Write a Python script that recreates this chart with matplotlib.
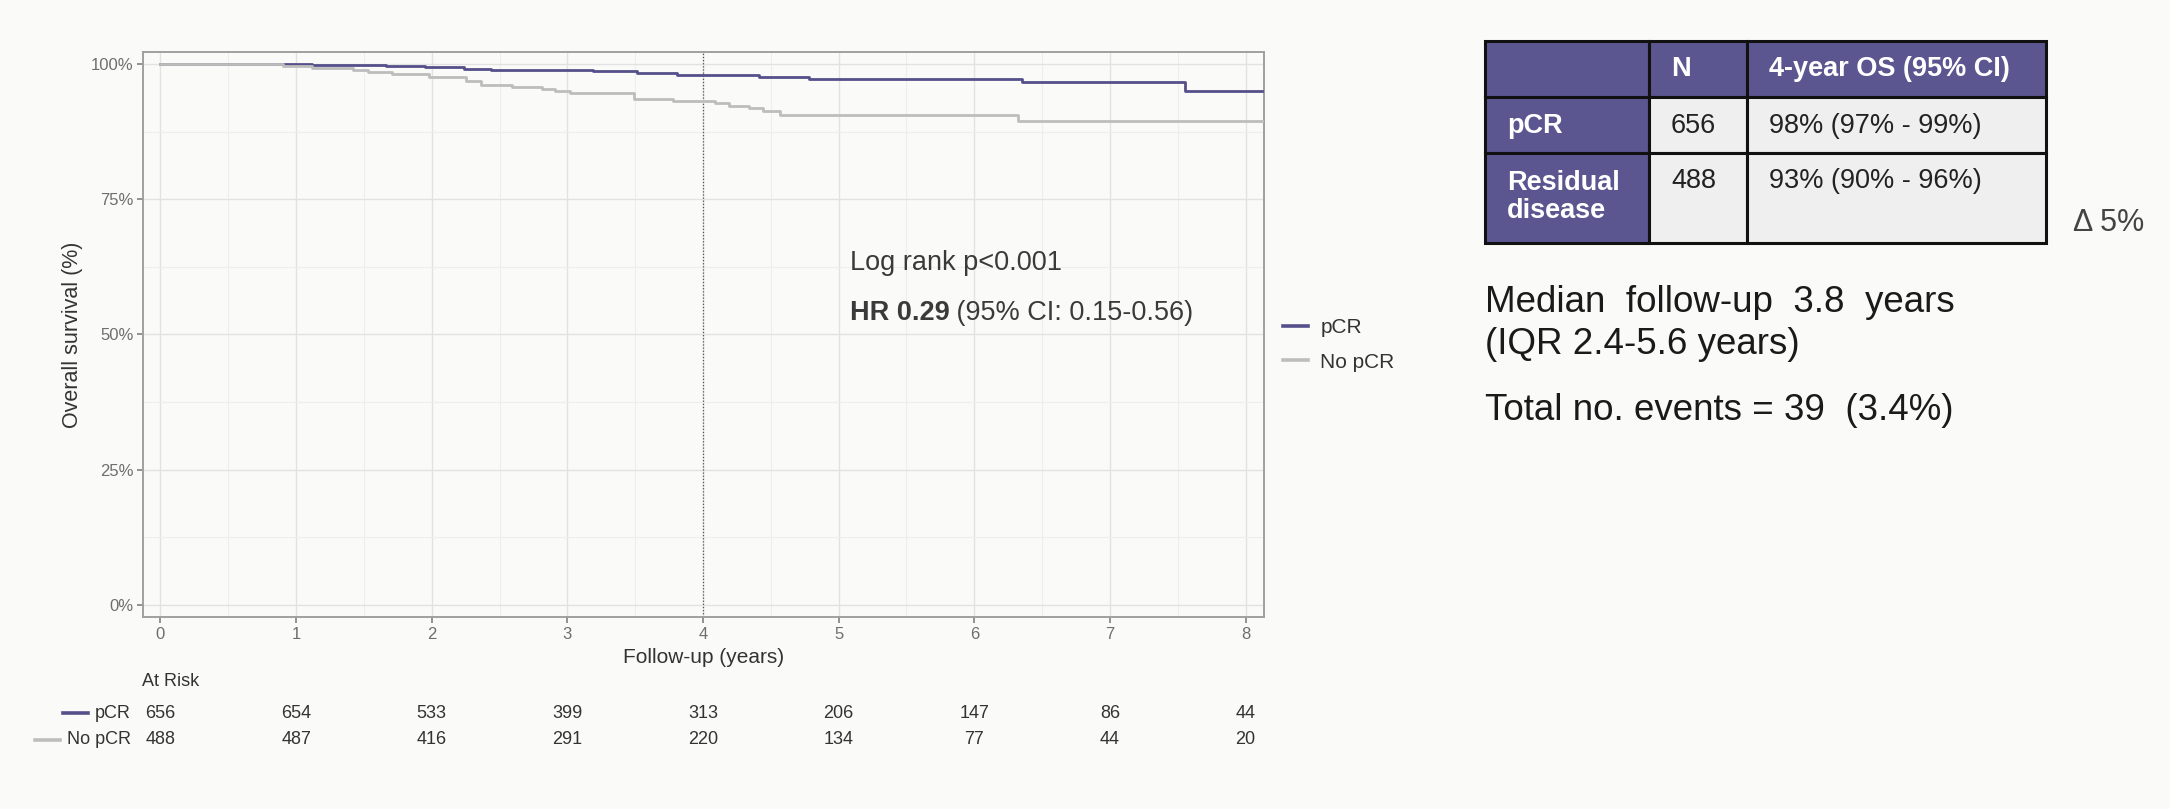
"""Overall survival by pCR status: KM curves, at-risk table and 4-year OS summary."""

import matplotlib

matplotlib.use("Agg")
import matplotlib.pyplot as plt
from matplotlib.lines import Line2D
from matplotlib.patches import Rectangle
from matplotlib.transforms import blended_transform_factory

plt.rcParams["font.family"] = ["Liberation Sans", "DejaVu Sans"]

# ---- data --------------------------------------------------------------
group_labels = ["pCR", "No pCR"]

time_pcr = [0, 1.12, 1.66, 1.95, 2.24, 2.44, 3.19, 3.51, 3.81, 4.41, 4.78,
            6.35, 7.55, 8.12]
surv_pcr = [100, 99.88, 99.7, 99.5, 99.08, 98.9, 98.65, 98.34, 98.03, 97.66,
            97.23, 96.6, 94.96, 94.96]

time_nopcr = [0, 0.90, 1.12, 1.42, 1.53, 1.71, 1.98, 2.25, 2.36, 2.59, 2.81,
              2.91, 3.02, 3.49, 3.78, 4.09, 4.19, 4.34, 4.44, 4.57, 6.32, 8.12]
surv_nopcr = [100, 99.7, 99.26, 98.95, 98.46, 98.15, 97.54, 96.92, 96.19,
              95.7, 95.45, 95.08, 94.65, 93.6, 93.1, 92.8, 92.3, 91.9, 91.3,
              90.65, 89.4, 89.4]

risk_years = [0, 1, 2, 3, 4, 5, 6, 7, 8]
at_risk_pcr = [656, 654, 533, 399, 313, 206, 147, 86, 44]
at_risk_nopcr = [488, 487, 416, 291, 220, 134, 77, 44, 20]

landmark_year = 4
y_ticks = [0, 25, 50, 75, 100]

table_header = ["", "N", "4-year OS (95% CI)"]
table_rows = [
    ["pCR", "656", "98% (97% - 99%)"],
    ["Residual\ndisease", "488", "93% (90% - 96%)"],
]
delta_text = "\u0394 5%"
summary_lines = ["Median  follow-up  3.8  years", "(IQR 2.4-5.6 years)",
                 "Total no. events = 39  (3.4%)"]

# ---- styling ------------------------------------------------------------
W, H = 2170, 809
BG = "#fafbf9"
PURPLE = "#55508a"
GREY = "#bdbdbd"
HEAD = "#5b5690"
TEXT = "#333333"


def fx(px):
    return px / W


def fy(py):
    return 1 - py / H


fig = plt.figure(figsize=(W / 100, H / 100), dpi=100, facecolor=BG)

ax = fig.add_axes([fx(143), fy(617), fx(1264 - 143), (617 - 51.7) / H])
ax.set_facecolor(BG)

ax.plot(time_pcr, surv_pcr, drawstyle="steps-post", color=PURPLE, lw=2.0,
        zorder=3)
ax.plot(time_nopcr, surv_nopcr, drawstyle="steps-post", color=GREY, lw=2.0,
        zorder=4)
ax.axvline(landmark_year, color="#555555", ls=(0, (1, 1.5)), lw=0.9, zorder=2)

ax.set_xlim(-0.129, 8.136)
ax.set_ylim(-2.22, 102.27)
ax.set_xticks(risk_years)
ax.set_xticks([y + 0.5 for y in risk_years[:-1]], minor=True)
ax.set_yticks(y_ticks)
ax.set_yticks([v + 12.5 for v in y_ticks[:-1]], minor=True)
ax.set_yticklabels([f"{v}%" for v in y_ticks])
ax.grid(which="major", color="#e2e2e2", lw=1.0, zorder=0)
ax.grid(which="minor", color="#eeeeee", lw=0.8, zorder=0)
ax.tick_params(which="major", length=4, width=1.2, color="#808080",
               labelcolor="#6e6e6e", labelsize=12, pad=3)
ax.tick_params(which="minor", length=0)
for sp in ax.spines.values():
    sp.set_color("#a0a0a0")
    sp.set_linewidth(1.4)

ax.set_xlabel("Follow-up (years)", fontsize=15, color=TEXT)
ax.xaxis.set_label_coords(0.5, -0.071)
ax.xaxis.label.set_verticalalignment("center")
ax.set_ylabel("Overall survival (%)", fontsize=15.5, color=TEXT)
ax.yaxis.set_label_coords(-0.0633, 0.5)
ax.yaxis.label.set_verticalalignment("center")

# log-rank annotation
t_lr = ax.text(5.08, 61.9, "Log rank p<0.001", fontsize=19.5, color="#3a3a3a",
               va="baseline")
t_hr = ax.text(5.08, 52.7, "HR 0.29", fontsize=19.5, color="#3a3a3a",
               fontweight="bold", va="baseline")
ax.annotate(" (95% CI: 0.15-0.56)", xy=(1, 0), xycoords=t_hr, va="bottom",
            ha="left", fontsize=19.5, color="#3a3a3a")

# legend
handles = [Line2D([], [], color=PURPLE, lw=2.6),
           Line2D([], [], color=GREY, lw=2.6)]
fig.legend(handles, group_labels, loc="upper left",
           bbox_to_anchor=(fx(1283), fy(318)), frameon=False, fontsize=15,
           handlelength=1.2, handletextpad=0.6, labelspacing=0.75,
           borderpad=0, borderaxespad=0, labelcolor=TEXT)

# at-risk table below the axes
risk_tr = blended_transform_factory(ax.transData, fig.transFigure)
fig.text(fx(142), fy(682), "At Risk", fontsize=13, color=TEXT, va="center")
row_labels = []
for label, counts, y_px in [(group_labels[0], at_risk_pcr, 713),
                            (group_labels[1], at_risk_nopcr, 740)]:
    row_labels.append(fig.text(fx(131), fy(y_px), label, fontsize=13,
                               color=TEXT, ha="right", va="center"))
    for yr, n in zip(risk_years, counts):
        fig.text(yr, fy(y_px), str(n), fontsize=13, color=TEXT, ha="center",
                 va="center", transform=risk_tr)

fig.canvas.draw()
renderer = fig.canvas.get_renderer()
for txt, col, y_px in zip(row_labels, [PURPLE, GREY], [713, 740]):
    x0 = txt.get_window_extent(renderer).x0
    fig.add_artist(Line2D([fx(x0 - 32), fx(x0 - 7)], [fy(y_px), fy(y_px)],
                          color=col, lw=2.6, transform=fig.transFigure))

# ---- right-hand table ---------------------------------------------------
col_edges = [1485, 1649, 1747.5, 2046]
row_edges = [40.7, 97.3, 152.7, 242.7]
tab = fig.add_axes([fx(col_edges[0]), fy(row_edges[-1]),
                    fx(col_edges[-1] - col_edges[0]),
                    (row_edges[-1] - row_edges[0]) / H])
tab.set_xlim(col_edges[0], col_edges[-1])
tab.set_ylim(row_edges[-1], row_edges[0])
tab.axis("off")

cells = [table_header] + table_rows
for r, row in enumerate(cells):
    for c, val in enumerate(row):
        purple = r == 0 or c == 0
        tab.add_patch(Rectangle((col_edges[c], row_edges[r]),
                                col_edges[c + 1] - col_edges[c],
                                row_edges[r + 1] - row_edges[r],
                                facecolor=HEAD if purple else "#efefef",
                                edgecolor="#111111", lw=2.2, clip_on=False))
        ty = row_edges[r] + 28.5
        if "\n" in val:
            ty += 15.5
        tab.text(col_edges[c] + 22, ty, val, fontsize=19.5,
                 color="white" if purple else "#222222",
                 fontweight="bold" if purple else "normal",
                 va="center", ha="left", linespacing=1.1)

fig.text(fx(2073), fy(223), delta_text, fontsize=22, color="#444444",
         va="center")
for line, y_px in zip(summary_lines, [303, 345, 410]):
    fig.text(fx(1485), fy(y_px), line, fontsize=26.5, color="#1a1a1a",
             va="center")

fig.savefig("out.png", dpi=100, facecolor=BG)
